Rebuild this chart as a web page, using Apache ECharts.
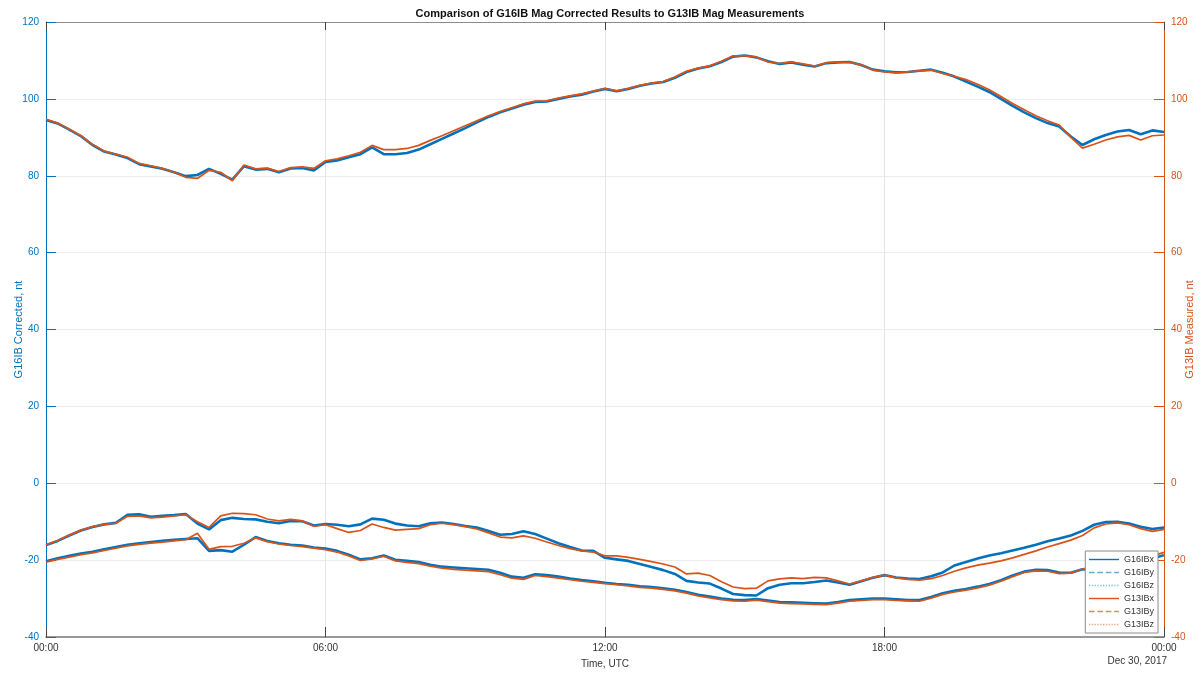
<!DOCTYPE html>
<html>
<head>
<meta charset="utf-8">
<script src="https://cdn.jsdelivr.net/npm/echarts@6/dist/echarts.min.js"></script>
<style>
  html, body { margin: 0; padding: 0; background: #fff; }
  #chart { width: 1203px; height: 673px; }
</style>
</head>
<body>
<div id="chart"></div>
<script>
// time of day, hours (Dec 30, 2017)
var hours = [];
for (var k = 0; k <= 96; k++) hours.push(k / 4);

var xTicks = ['00:00', '06:00', '12:00', '18:00', '00:00'];

// G16IB corrected (left axis)
var g16x = [94.5,93.6,92.0,90.3,88.0,86.3,85.5,84.6,83.0,82.4,81.8,80.9,79.9,80.2,81.8,80.5,
  79.0,82.5,81.6,81.8,80.9,81.9,82.0,81.4,83.6,84.0,84.8,85.6,87.4,85.6,85.6,85.9,
  86.8,88.2,89.6,91.0,92.4,93.9,95.3,96.5,97.5,98.5,99.2,99.3,100.0,100.6,101.1,101.9,
  102.6,102.0,102.6,103.4,104.0,104.4,105.5,107.0,107.9,108.5,109.6,111.0,111.3,110.8,109.8,109.1,
  109.5,108.9,108.4,109.3,109.5,109.6,108.8,107.6,107.2,106.9,107.0,107.3,107.6,106.8,105.8,104.5,
  103.2,101.8,100.0,98.2,96.5,95.0,93.7,92.8,90.2,88.0,89.5,90.6,91.5,91.9,90.8,91.8,91.4];
var g16y = [-20.3,-19.5,-18.9,-18.3,-17.8,-17.2,-16.6,-16.0,-15.6,-15.3,-15.0,-14.7,-14.5,-14.3,-17.6,-17.4,
  -17.8,-16.0,-14.0,-15.0,-15.6,-16.0,-16.2,-16.7,-17.0,-17.6,-18.6,-19.8,-19.5,-18.8,-19.9,-20.2,
  -20.5,-21.2,-21.7,-21.9,-22.1,-22.3,-22.5,-23.3,-24.3,-24.6,-23.7,-23.9,-24.3,-24.8,-25.2,-25.5,
  -25.9,-26.2,-26.4,-26.8,-27.0,-27.3,-27.7,-28.3,-29.0,-29.5,-30.0,-30.3,-30.4,-30.1,-30.5,-30.9,
  -31.0,-31.1,-31.2,-31.3,-30.9,-30.4,-30.2,-30.0,-30.0,-30.2,-30.4,-30.4,-29.6,-28.6,-28.0,-27.5,
  -26.9,-26.2,-25.2,-24.0,-23.0,-22.5,-22.6,-23.2,-23.3,-22.4,-22.2,-22.0,-21.6,-21.3,-20.6,-19.6,-18.7];
var g16z = [-16.1,-15.0,-13.6,-12.3,-11.4,-10.7,-10.3,-8.2,-8.1,-8.7,-8.5,-8.3,-8.0,-10.5,-12.0,-9.6,
  -9.0,-9.3,-9.4,-10.0,-10.4,-9.8,-9.9,-11.0,-10.6,-10.8,-11.2,-10.7,-9.2,-9.5,-10.5,-11.0,
  -11.2,-10.4,-10.2,-10.6,-11.1,-11.5,-12.4,-13.4,-13.2,-12.5,-13.2,-14.4,-15.6,-16.6,-17.5,-17.6,
  -19.4,-19.8,-20.2,-21.0,-21.8,-22.6,-23.6,-25.4,-25.8,-26.1,-27.4,-28.8,-29.1,-29.2,-27.3,-26.4,
  -26.0,-26.0,-25.7,-25.3,-25.8,-26.4,-25.5,-24.6,-23.9,-24.5,-24.8,-24.9,-24.2,-23.2,-21.4,-20.5,
  -19.6,-18.8,-18.2,-17.5,-16.8,-16.0,-15.1,-14.4,-13.6,-12.4,-10.8,-10.1,-10.0,-10.5,-11.3,-11.9,-11.5];

// G13IB measured (right axis)
var g13x = [94.7,93.7,92.1,90.4,88.1,86.4,85.6,84.8,83.2,82.6,81.9,80.9,79.6,79.3,81.4,80.9,
  78.7,82.8,81.8,82.0,81.1,82.1,82.3,81.9,83.9,84.4,85.2,86.1,87.9,86.8,86.8,87.1,
  87.9,89.2,90.4,91.7,93.0,94.3,95.6,96.7,97.7,98.7,99.4,99.5,100.2,100.8,101.3,102.0,
  102.7,102.1,102.7,103.5,104.1,104.5,105.7,107.2,108.0,108.6,109.8,111.2,111.2,110.9,109.6,109.2,
  109.6,109.1,108.5,109.4,109.6,109.5,108.9,107.5,107.0,106.8,107.0,107.3,107.5,106.6,105.9,105.0,
  103.8,102.4,100.6,98.8,97.2,95.6,94.3,93.2,90.0,87.2,88.2,89.3,90.1,90.5,89.3,90.4,90.6];
var g13y = [-20.5,-19.8,-19.2,-18.6,-18.1,-17.5,-16.9,-16.3,-15.9,-15.6,-15.3,-15.0,-14.7,-13.0,-17.2,-16.5,
  -16.4,-15.6,-14.2,-15.2,-15.8,-16.2,-16.5,-16.9,-17.3,-17.9,-18.9,-20.1,-19.7,-19.0,-20.2,-20.6,
  -20.9,-21.6,-22.1,-22.4,-22.6,-22.8,-23.0,-23.8,-24.7,-25.0,-24.0,-24.3,-24.7,-25.1,-25.5,-25.8,
  -26.1,-26.4,-26.7,-27.1,-27.3,-27.6,-28.0,-28.6,-29.3,-29.8,-30.3,-30.6,-30.7,-30.4,-30.8,-31.2,
  -31.3,-31.4,-31.5,-31.6,-31.2,-30.7,-30.5,-30.3,-30.3,-30.5,-30.6,-30.7,-29.9,-28.9,-28.3,-27.8,
  -27.2,-26.5,-25.5,-24.3,-23.2,-22.8,-22.9,-23.5,-23.4,-22.3,-21.8,-21.4,-21.0,-20.6,-19.9,-18.9,-18.0];
var g13z = [-16.0,-14.9,-13.5,-12.2,-11.3,-10.7,-10.4,-8.6,-8.5,-9.0,-8.8,-8.5,-8.2,-10.0,-11.5,-8.5,
  -7.8,-7.9,-8.2,-9.3,-9.8,-9.4,-9.8,-11.2,-10.8,-11.8,-12.8,-12.3,-10.6,-11.5,-12.2,-12.0,
  -11.8,-10.8,-10.4,-10.8,-11.3,-11.9,-12.9,-14.0,-14.2,-13.7,-14.3,-15.3,-16.2,-17.0,-17.6,-17.9,
  -18.9,-18.9,-19.3,-19.8,-20.4,-21.0,-21.8,-23.6,-23.4,-24.0,-25.6,-27.0,-27.4,-27.3,-25.4,-24.9,
  -24.6,-24.8,-24.5,-24.6,-25.4,-26.2,-25.4,-24.5,-23.9,-24.6,-25.0,-25.2,-24.8,-24.0,-22.9,-22.0,
  -21.3,-20.8,-20.2,-19.4,-18.5,-17.6,-16.6,-15.7,-14.8,-13.6,-11.6,-10.6,-10.3,-10.8,-11.8,-12.5,-12.0];

var BLUE = '#0072BD';
var ORANGE = '#D95319';
var FONT = '"Liberation Sans", Arial, sans-serif';

function pairs(vals) {
  return hours.map(function (h, i) { return [h, vals[i]]; });
}

function line(name, vals, axis, color, width) {
  return {
    name: name,
    type: 'line',
    yAxisIndex: axis,
    data: pairs(vals),
    showSymbol: false,
    symbol: 'none',
    lineStyle: { color: color, width: width },
    itemStyle: { color: color },
    z: axis === 0 ? 2 : 3
  };
}

var chart = echarts.init(document.getElementById('chart'));

function yAxisOf(name, color, pos, gap, split) {
  return {
    type: 'value',
    min: -40,
    max: 120,
    interval: 20,
    position: pos,
    name: name,
    nameLocation: 'middle',
    nameRotate: 90,
    nameGap: gap,
    nameMoveOverlap: false,
    nameTextStyle: { fontSize: 11, color: color, fontFamily: FONT },
    axisLine: { show: true, onZero: false, lineStyle: { color: color, width: 1 } },
    axisTick: { show: true, inside: true, length: 10, lineStyle: { color: color } },
    axisLabel: { fontSize: 10, color: color, fontFamily: FONT, margin: 7 },
    splitLine: split ? { show: true, lineStyle: { color: '#ececec', width: 1 } } : { show: false }
  };
}

chart.setOption({
  animation: false,
  backgroundColor: '#fff',
  title: {
    text: 'Comparison of G16IB Mag Corrected Results to G13IB Mag Measurements',
    left: 605,
    top: 3,
    textAlign: 'center',
    textStyle: { fontSize: 11, fontWeight: 'bold', color: '#111', fontFamily: FONT }
  },
  grid: { left: 46, right: 39, top: 22, bottom: 36, outerBoundsMode: 'none', containLabel: false },
  legend: {
    orient: 'vertical',
    right: 45,
    bottom: 40,
    itemWidth: 30,
    itemHeight: 10,
    itemGap: 4,
    padding: [4, 4, 4, 3],
    borderColor: '#8a8a8a',
    borderWidth: 1,
    backgroundColor: '#fff',
    itemStyle: { opacity: 0 },
    lineStyle: { width: 1.4 },
    textStyle: { fontSize: 9, color: '#333', fontFamily: FONT },
    data: [
      { name: 'G16IBx' },
      { name: 'G16IBy', lineStyle: { type: 'dashed', width: 1.4, opacity: 0.6 } },
      { name: 'G16IBz', lineStyle: { type: 'dotted', width: 1.4, opacity: 0.45 } },
      { name: 'G13IBx' },
      { name: 'G13IBy', lineStyle: { type: 'dashed', width: 1.4, opacity: 0.7 } },
      { name: 'G13IBz', lineStyle: { type: 'dotted', width: 1.4, opacity: 0.5 } }
    ]
  },
  xAxis: [{
    type: 'value',
    min: 0,
    max: 24,
    interval: 6,
    name: 'Time, UTC',
    nameLocation: 'middle',
    nameGap: 22,
    nameMoveOverlap: false,
    nameTextStyle: { fontSize: 10, color: '#333', fontFamily: FONT },
    axisLine: { onZero: false, lineStyle: { color: '#7a7a7a', width: 1.5 } },
    axisTick: { inside: true, length: 10, lineStyle: { color: '#444' } },
    axisLabel: {
      fontSize: 10, color: '#333', fontFamily: FONT, margin: 6,
      formatter: function (v) { return xTicks[v / 6]; }
    },
    splitLine: { show: true, lineStyle: { color: '#e4e4e4', width: 1 } }
  }, {
    type: 'value',
    position: 'top',
    min: 0,
    max: 24,
    interval: 6,
    axisLine: { onZero: false, lineStyle: { color: '#8c8c8c', width: 1 } },
    axisTick: { inside: true, length: 8, lineStyle: { color: '#444' } },
    axisLabel: { show: false },
    splitLine: { show: false }
  }],
  yAxis: [
    yAxisOf('G16IB Corrected, nt', BLUE, 'left', 22, true),
    yAxisOf('G13IB Measured, nt', ORANGE, 'right', 20, false)
  ],
  graphic: [{
    type: 'text',
    right: 36,
    top: 656,
    style: { text: 'Dec 30, 2017', fill: '#333', font: '10px "Liberation Sans", Arial, sans-serif' }
  }],
  series: [
    line('G16IBx', g16x, 0, BLUE, 2.6),
    line('G16IBy', g16y, 0, BLUE, 2.6),
    line('G16IBz', g16z, 0, BLUE, 2.6),
    line('G13IBx', g13x, 1, ORANGE, 1.7),
    line('G13IBy', g13y, 1, ORANGE, 1.7),
    line('G13IBz', g13z, 1, ORANGE, 1.7)
  ]
});
</script>
</body>
</html>
